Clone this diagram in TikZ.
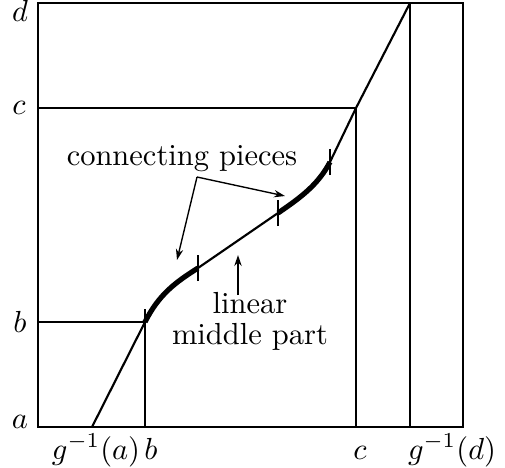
\documentclass[tikz,border=0pt]{standalone}
\usepackage{amsmath}
\usetikzlibrary{arrows.meta,positioning}

\begin{document}
\begin{tikzpicture}[x=0.328pt, y=0.328pt, frame/.style={line width=0.9pt}, graph/.style={line width=0.7pt}, piece/.style={line width=1.7pt}, tickmark/.style={line width=0.8pt}, arr/.style={-{Stealth[length=3.6pt,width=2.4pt]}, line width=0.45pt}, lbl/.style={inner sep=0pt, anchor=base}]
\useasboundingbox (0,0) rectangle (505,467);
% points on the graph
\coordinate (p0) at (92,40);
\coordinate (p1) at (145,145);
\coordinate (p2) at (198,199);
\coordinate (p3) at (278,254);
\coordinate (p4) at (330,305);
\coordinate (p5) at (356,359);
\coordinate (p6) at (410,464);
% box and guide lines
\draw[frame] (38,40) rectangle (463,464);
\draw[frame] (38,145) -- (p1) -- (145,40);
\draw[frame] (38,359) -- (p5) -- (356,40);
\draw[frame] (p6) -- (410,40);
% graph
\draw[graph] (p0) -- (p1);
\draw[graph] (p2) -- (p3);
\draw[graph] (p4) -- (p5) -- (p6);
\draw[piece] (p1) .. controls (159,173) and (176,185) .. (p2);
\draw[piece] (p3) .. controls (300,269) and (318,282) .. (p4);
\foreach \p in {p1,p2,p3,p4}
  \draw[tickmark] (\p) ++(0,-13) -- ++(0,26);
% axis labels
\node (la) at (20,45) {$a$};
\node (lb) at (20,145) {$b$};
\node (lc) at (19,359) {$c$};
\node (ld) at (20,456) {$d$};
\node[lbl] (ga) at (96,8) {$g^{-1}(a)$};
\node[lbl] (xb) at (151,8) {$b$};
\node[lbl] (xc) at (360,8) {$c$};
\node[lbl] (gd) at (452,8) {$g^{-1}(d)$};
% annotations
\node[lbl] (conn) at (182,302) {connecting pieces};
\coordinate (fork) at (197,290);
\coordinate (lowpiece) at (177,207);
\coordinate (uppiece) at (285,271);
\draw[arr] (fork) -- (lowpiece);
\draw[arr] (fork) -- (uppiece);
\node[lbl] (lin) at (250,154) {linear};
\node[lbl] (mid) at (250,123) {middle part};
\coordinate (linfoot) at (238,172);
\coordinate (midline) at (238,212);
\draw[arr, line width=0.7pt] (linfoot) -- (midline);
\end{tikzpicture}
\end{document}
